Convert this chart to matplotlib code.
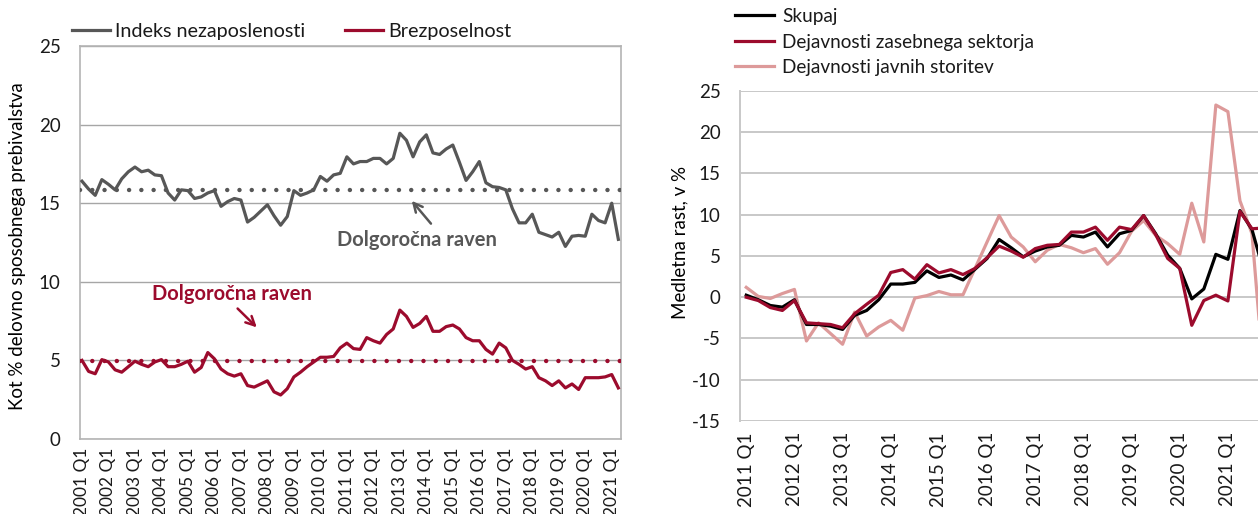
import matplotlib
matplotlib.use("Agg")
import matplotlib.pyplot as plt

plt.rcParams.update({
    "font.family": ["Lato", "DejaVu Sans"],
    "font.size": 13,
    "text.color": "#1a1a1a",
    "xtick.color": "#1a1a1a",
    "ytick.color": "#1a1a1a",
    "axes.unicode_minus": False,
})

# ---- left panel: quarterly 2001 Q1 .. 2021 Q2
left_years = list(range(2001, 2022))
unemp_index = [16.4, 15.9, 15.5, 16.5, 16.2, 15.85, 16.55, 17.0, 17.3, 17.0,
               17.1, 16.8, 16.75, 15.65, 15.2, 15.85, 15.8, 15.3, 15.4, 15.65,
               15.8, 14.8, 15.1, 15.3, 15.2, 13.8, 14.1, 14.5, 14.9, 14.2,
               13.6, 14.15, 15.8, 15.5, 15.65, 15.85, 16.7, 16.4, 16.8, 16.9,
               17.95, 17.5, 17.65, 17.65, 17.85, 17.85, 17.5, 17.85, 19.45, 19.0,
               17.95, 18.9, 19.35, 18.2, 18.1, 18.45, 18.7, 17.6, 16.45, 17.0,
               17.65, 16.3, 16.05, 16.0, 15.85, 14.65, 13.75, 13.75, 14.3, 13.15,
               13.0, 12.85, 13.15, 12.25, 12.9, 12.95, 12.9, 14.3, 13.9, 13.75,
               15.0, 12.7]
unemployment = [5.0, 4.3, 4.15, 5.05, 4.9, 4.4, 4.25, 4.6, 4.95, 4.75,
                4.6, 4.9, 5.05, 4.6, 4.6, 4.75, 4.95, 4.25, 4.55, 5.5,
                5.1, 4.45, 4.15, 4.0, 4.15, 3.4, 3.3, 3.5, 3.7, 3.0,
                2.8, 3.2, 3.95, 4.25, 4.6, 4.9, 5.2, 5.2, 5.25, 5.8,
                6.1, 5.75, 5.7, 6.45, 6.25, 6.1, 6.65, 7.0, 8.2, 7.8,
                7.1, 7.35, 7.8, 6.85, 6.85, 7.15, 7.25, 7.0, 6.45, 6.25,
                6.25, 5.7, 5.4, 6.1, 5.8, 5.0, 4.75, 4.45, 4.6, 3.9,
                3.7, 3.4, 3.7, 3.25, 3.5, 3.15, 3.9, 3.9, 3.9, 3.95,
                4.1, 3.25]
index_longrun = 15.85
unemp_longrun = 4.97

# ---- right panel: quarterly 2011 Q1 .. 2021 Q4 (last part cut off)
right_years = list(range(2011, 2022))
total = [0.25, -0.3, -1.0, -1.2, -0.3, -3.3, -3.3, -3.5, -3.9, -2.2,
         -1.6, -0.3, 1.6, 1.6, 1.8, 3.2, 2.4, 2.7, 2.1, 3.4,
         4.7, 7.0, 6.0, 4.9, 5.6, 6.1, 6.3, 7.5, 7.3, 7.9,
         6.1, 7.7, 8.1, 9.9, 7.7, 5.1, 3.5, -0.2, 1.0, 5.2,
         4.6, 10.5, 8.2, 3.0]
private = [0.0, -0.4, -1.25, -1.6, -0.4, -3.1, -3.2, -3.3, -3.7, -2.0,
           -0.85, 0.25, 3.0, 3.35, 2.2, 3.95, 2.95, 3.35, 2.75, 3.5,
           4.8, 6.2, 5.6, 4.85, 5.9, 6.3, 6.4, 7.9, 7.9, 8.5,
           6.9, 8.5, 8.2, 9.9, 7.6, 4.7, 3.5, -3.4, -0.4, 0.25,
           -0.45, 10.4, 8.3, 8.4]
public = [1.2, 0.1, -0.15, 0.45, 0.95, -5.3, -3.1, -4.4, -5.7, -1.8,
          -4.7, -3.6, -2.8, -4.0, -0.1, 0.2, 0.7, 0.3, 0.3, 3.5,
          6.7, 9.9, 7.3, 6.1, 4.3, 5.7, 6.4, 6.0, 5.4, 5.9,
          4.0, 5.4, 8.0, 9.3, 7.5, 6.5, 5.2, 11.4, 6.7, 23.3,
          22.5, 11.7, 7.7, -10.0]

GRAY = "#575757"
RED = "#9c0b2d"
PINK = "#dd9a9a"

fig = plt.figure(figsize=(12.58, 5.14), dpi=100)

# ================= left panel =================
ax = fig.add_axes([80 / 1258, 1 - 439 / 514, 541 / 1258, 393 / 514])
qL = list(range(len(unemp_index)))
ax.plot(qL, unemp_index, color=GRAY, lw=2.3, label="Indeks nezaposlenosti", zorder=4)
ax.plot(qL, unemployment, color=RED, lw=2.3, label="Brezposelnost", zorder=4)
ax.axhline(index_longrun, color=GRAY, lw=3.2, ls=(0, (0.01, 2.75)),
           dash_capstyle="round", zorder=3)
ax.axhline(unemp_longrun, color=RED, lw=3.2, ls=(0, (0.01, 2.75)),
           dash_capstyle="round", zorder=3)

ax.set_xlim(-0.3, 81.4)
ax.set_ylim(0, 25)
ax.set_yticks(range(0, 26, 5))
ax.set_xticks(range(0, 81, 4))
ax.set_xticklabels([f"{y} Q1" for y in left_years], rotation=90, fontsize=12.5)
ax.tick_params(axis="x", length=0, pad=6)
ax.tick_params(axis="y", length=0, pad=14, labelsize=13.5)
ax.grid(axis="y", color="#a6a6a6", lw=1.0, zorder=0)
ax.set_axisbelow(True)
for s in ax.spines.values():
    s.set_color("#b4b4b4")
    s.set_linewidth(1.2)
ax.set_ylabel("Kot % delovno sposobnega prebivalstva", fontsize=13.5)
ax.yaxis.set_label_coords(-0.1, 0.49)

# long-run level labels with arrows
ax.text(50.6, 12.65, "Dolgoročna raven", color=GRAY, fontsize=14.5,
        fontweight="bold", ha="center", va="center")
ax.annotate("", xy=(49.8, 15.15), xytext=(52.7, 13.7),
            arrowprops=dict(arrowstyle="->", color=GRAY, lw=1.8,
                            mutation_scale=16, shrinkA=0, shrinkB=0))
ax.text(22.6, 9.25, "Dolgoročna raven", color=RED, fontsize=14.5,
        fontweight="bold", ha="center", va="center")
ax.annotate("", xy=(26.4, 7.1), xytext=(23.5, 8.3),
            arrowprops=dict(arrowstyle="->", color=RED, lw=1.8,
                            mutation_scale=16, shrinkA=0, shrinkB=0))

ax.legend(loc="lower left", bbox_to_anchor=(-0.015, 1.015), ncol=2, frameon=False,
          fontsize=14.2, handlelength=1.95, handletextpad=0.25, columnspacing=2.0,
          borderaxespad=0, borderpad=0)

# ================= right panel =================
bx = fig.add_axes([740 / 1258, 1 - 421 / 514, 518 / 1258, 330 / 514])
qR = list(range(len(total)))
bx.plot(qR, public, color=PINK, lw=2.3, label="Dejavnosti javnih storitev", zorder=3)
bx.plot(qR, total, color="black", lw=2.3, label="Skupaj", zorder=4)
bx.plot(qR, private, color=RED, lw=2.3, label="Dejavnosti zasebnega sektorja", zorder=5)

bx.set_xlim(-0.52, 42.5)
bx.set_ylim(-15, 25)
bx.set_yticks(range(-15, 26, 5))
bx.set_xticks(range(0, 41, 4))
bx.set_xticklabels([f"{y} Q1" for y in right_years], rotation=90, fontsize=13.5)
bx.tick_params(axis="x", length=0, pad=8)
bx.tick_params(axis="y", length=0, pad=14, labelsize=13.5)
bx.grid(axis="y", color="#c8c8c8", lw=1.4, zorder=0)
bx.set_axisbelow(True)
for name in ("top", "right", "bottom"):
    bx.spines[name].set_visible(False)
bx.spines["left"].set_color("#c8c8c8")
bx.spines["left"].set_linewidth(1.4)
bx.set_ylabel("Medletna rast, v %", fontsize=13.5)
bx.yaxis.set_label_coords(-0.1, 0.54)

h, l = bx.get_legend_handles_labels()
order = [1, 2, 0]
bx.legend([h[i] for i in order], [l[i] for i in order], loc="lower left",
          bbox_to_anchor=(-0.01, 1.045), frameon=False, fontsize=13.7,
          handlelength=2.05, handletextpad=0.45, labelspacing=0.45,
          borderaxespad=0, borderpad=0)

fig.savefig("out.png", dpi=100)
